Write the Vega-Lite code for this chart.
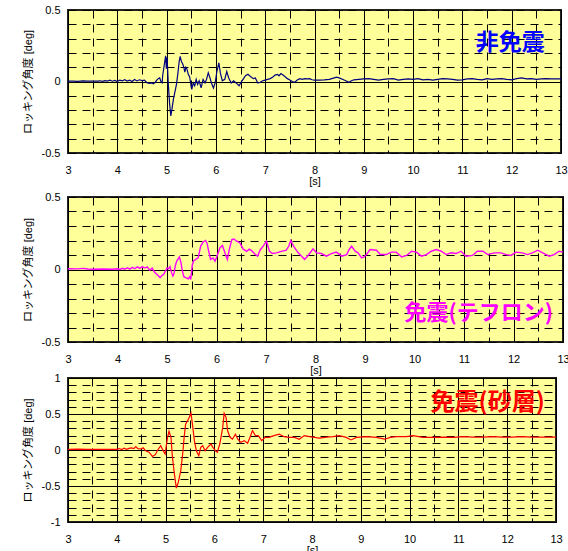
{
  "$schema": "https://vega.github.io/schema/vega-lite/v6.json",
  "padding": {"top": 3, "left": 21, "right": 0, "bottom": 0},
  "background": "#FFFFFF",
  "datasets": {
    "a": [
      {"t":3.0,"v":0.002},{"t":3.1,"v":0.003},{"t":3.2,"v":0.001},{"t":3.3,"v":0.004},{"t":3.4,"v":0.002},{"t":3.5,"v":0.003},{"t":3.6,"v":0.002},{"t":3.65,"v":0.005},{"t":3.7,"v":0.001},{"t":3.75,"v":0.006},{"t":3.8,"v":0.003},{"t":3.85,"v":0.009},{"t":3.9,"v":0.002},{"t":3.95,"v":0.007},{"t":4.0,"v":0.0},{"t":4.05,"v":0.01},{"t":4.1,"v":0.004},{"t":4.15,"v":0.012},{"t":4.2,"v":0.003},{"t":4.25,"v":0.009},{"t":4.3,"v":0.0},{"t":4.35,"v":0.014},{"t":4.4,"v":0.004},{"t":4.45,"v":0.012},{"t":4.5,"v":0.006},{"t":4.55,"v":0.01},{"t":4.6,"v":-0.008},{"t":4.65,"v":-0.013},{"t":4.7,"v":-0.01},{"t":4.73,"v":-0.016},{"t":4.77,"v":-0.005},{"t":4.8,"v":0.01},{"t":4.83,"v":0.02},{"t":4.86,"v":0.025},{"t":4.89,"v":-0.005},{"t":4.91,"v":-0.01},{"t":4.92,"v":0.04},{"t":4.95,"v":0.11},{"t":4.98,"v":0.18},{"t":4.995,"v":0.09},{"t":5.01,"v":0.17},{"t":5.035,"v":-0.02},{"t":5.06,"v":-0.15},{"t":5.085,"v":-0.24},{"t":5.11,"v":-0.19},{"t":5.14,"v":-0.12},{"t":5.17,"v":-0.07},{"t":5.2,"v":-0.02},{"t":5.23,"v":0.06},{"t":5.255,"v":0.14},{"t":5.275,"v":0.175},{"t":5.3,"v":0.14},{"t":5.33,"v":0.12},{"t":5.355,"v":0.09},{"t":5.37,"v":0.065},{"t":5.39,"v":0.1},{"t":5.41,"v":0.09},{"t":5.44,"v":0.05},{"t":5.47,"v":0.03},{"t":5.5,"v":-0.04},{"t":5.51,"v":-0.055},{"t":5.54,"v":-0.01},{"t":5.57,"v":-0.03},{"t":5.6,"v":0.015},{"t":5.63,"v":-0.02},{"t":5.66,"v":0.005},{"t":5.7,"v":-0.045},{"t":5.74,"v":0.015},{"t":5.78,"v":-0.01},{"t":5.81,"v":0.015},{"t":5.845,"v":0.06},{"t":5.88,"v":0.025},{"t":5.91,"v":-0.01},{"t":5.95,"v":-0.045},{"t":5.985,"v":-0.01},{"t":6.02,"v":0.07},{"t":6.06,"v":0.13},{"t":6.09,"v":0.06},{"t":6.13,"v":0.005},{"t":6.18,"v":0.015},{"t":6.22,"v":0.07},{"t":6.26,"v":0.025},{"t":6.31,"v":-0.01},{"t":6.36,"v":0.005},{"t":6.41,"v":-0.01},{"t":6.47,"v":-0.03},{"t":6.53,"v":0.005},{"t":6.6,"v":0.04},{"t":6.65,"v":0.05},{"t":6.7,"v":0.035},{"t":6.76,"v":0.02},{"t":6.8,"v":0.025},{"t":6.85,"v":-0.01},{"t":6.9,"v":-0.005},{"t":6.95,"v":0.005},{"t":7.0,"v":0.01},{"t":7.05,"v":0.015},{"t":7.1,"v":0.02},{"t":7.15,"v":0.03},{"t":7.2,"v":0.045},{"t":7.25,"v":0.05},{"t":7.28,"v":0.04},{"t":7.32,"v":0.055},{"t":7.36,"v":0.045},{"t":7.4,"v":0.035},{"t":7.45,"v":0.02},{"t":7.5,"v":0.01},{"t":7.55,"v":0.0},{"t":7.6,"v":-0.005},{"t":7.65,"v":0.01},{"t":7.7,"v":0.02},{"t":7.75,"v":0.015},{"t":7.8,"v":0.02},{"t":7.85,"v":0.018},{"t":7.9,"v":0.02},{"t":7.95,"v":0.012},{"t":8.0,"v":0.01},{"t":8.1,"v":0.01},{"t":8.2,"v":0.012},{"t":8.3,"v":0.015},{"t":8.4,"v":0.025},{"t":8.45,"v":0.03},{"t":8.5,"v":0.025},{"t":8.6,"v":0.01},{"t":8.7,"v":-0.005},{"t":8.75,"v":0.005},{"t":8.8,"v":0.012},{"t":8.9,"v":0.015},{"t":9.0,"v":0.018},{"t":9.1,"v":0.02},{"t":9.2,"v":0.015},{"t":9.3,"v":0.01},{"t":9.4,"v":0.015},{"t":9.5,"v":0.018},{"t":9.6,"v":0.02},{"t":9.7,"v":0.01},{"t":9.8,"v":0.015},{"t":9.9,"v":0.018},{"t":10.0,"v":0.015},{"t":10.1,"v":0.02},{"t":10.2,"v":0.012},{"t":10.3,"v":0.015},{"t":10.4,"v":0.01},{"t":10.5,"v":0.015},{"t":10.6,"v":0.02},{"t":10.7,"v":0.018},{"t":10.8,"v":0.015},{"t":10.9,"v":0.01},{"t":11.0,"v":0.012},{"t":11.1,"v":0.018},{"t":11.2,"v":0.02},{"t":11.3,"v":0.015},{"t":11.4,"v":0.012},{"t":11.5,"v":0.02},{"t":11.6,"v":0.015},{"t":11.7,"v":0.018},{"t":11.8,"v":0.02},{"t":11.9,"v":0.015},{"t":12.0,"v":0.012},{"t":12.1,"v":0.02},{"t":12.2,"v":0.025},{"t":12.3,"v":0.018},{"t":12.4,"v":0.02},{"t":12.5,"v":0.015},{"t":12.6,"v":0.018},{"t":12.7,"v":0.02},{"t":12.8,"v":0.018},{"t":12.9,"v":0.018},{"t":13.0,"v":0.018}
    ],
    "b": [
      {"t":3.0,"v":0.005},{"t":3.2,"v":0.004},{"t":3.3,"v":0.008},{"t":3.4,"v":0.003},{"t":3.5,"v":0.002},{"t":3.7,"v":0.003},{"t":3.9,"v":0.002},{"t":4.0,"v":0.005},{"t":4.05,"v":0.0},{"t":4.1,"v":0.008},{"t":4.15,"v":0.002},{"t":4.2,"v":0.012},{"t":4.25,"v":0.003},{"t":4.3,"v":0.015},{"t":4.35,"v":0.005},{"t":4.4,"v":0.018},{"t":4.45,"v":0.008},{"t":4.5,"v":0.02},{"t":4.55,"v":0.01},{"t":4.6,"v":0.018},{"t":4.65,"v":-0.005},{"t":4.7,"v":0.01},{"t":4.75,"v":-0.02},{"t":4.8,"v":-0.035},{"t":4.83,"v":-0.045},{"t":4.86,"v":-0.057},{"t":4.9,"v":-0.04},{"t":4.93,"v":-0.035},{"t":4.97,"v":-0.01},{"t":5.0,"v":0.01},{"t":5.03,"v":0.005},{"t":5.06,"v":0.02},{"t":5.09,"v":-0.02},{"t":5.12,"v":-0.045},{"t":5.14,"v":-0.03},{"t":5.17,"v":0.03},{"t":5.2,"v":0.06},{"t":5.25,"v":0.087},{"t":5.28,"v":0.05},{"t":5.31,"v":-0.01},{"t":5.34,"v":-0.05},{"t":5.39,"v":-0.057},{"t":5.43,"v":-0.064},{"t":5.46,"v":-0.05},{"t":5.48,"v":-0.069},{"t":5.51,"v":0.03},{"t":5.54,"v":0.06},{"t":5.58,"v":0.07},{"t":5.63,"v":0.08},{"t":5.68,"v":0.16},{"t":5.73,"v":0.19},{"t":5.78,"v":0.2},{"t":5.81,"v":0.18},{"t":5.84,"v":0.13},{"t":5.88,"v":0.07},{"t":5.93,"v":0.08},{"t":5.97,"v":0.057},{"t":6.01,"v":0.092},{"t":6.07,"v":0.15},{"t":6.12,"v":0.165},{"t":6.17,"v":0.115},{"t":6.22,"v":0.07},{"t":6.26,"v":0.14},{"t":6.31,"v":0.207},{"t":6.35,"v":0.21},{"t":6.41,"v":0.195},{"t":6.47,"v":0.185},{"t":6.54,"v":0.14},{"t":6.61,"v":0.125},{"t":6.66,"v":0.14},{"t":6.71,"v":0.13},{"t":6.78,"v":0.105},{"t":6.83,"v":0.092},{"t":6.88,"v":0.133},{"t":6.95,"v":0.165},{"t":7.01,"v":0.195},{"t":7.07,"v":0.125},{"t":7.13,"v":0.11},{"t":7.21,"v":0.115},{"t":7.31,"v":0.125},{"t":7.41,"v":0.133},{"t":7.46,"v":0.16},{"t":7.5,"v":0.2},{"t":7.56,"v":0.16},{"t":7.65,"v":0.115},{"t":7.72,"v":0.092},{"t":7.78,"v":0.07},{"t":7.87,"v":0.105},{"t":7.95,"v":0.143},{"t":8.02,"v":0.115},{"t":8.12,"v":0.11},{"t":8.22,"v":0.092},{"t":8.32,"v":0.11},{"t":8.42,"v":0.12},{"t":8.53,"v":0.092},{"t":8.63,"v":0.103},{"t":8.68,"v":0.138},{"t":8.73,"v":0.16},{"t":8.8,"v":0.126},{"t":8.86,"v":0.115},{"t":8.93,"v":0.08},{"t":8.98,"v":0.087},{"t":9.03,"v":0.103},{"t":9.1,"v":0.138},{"t":9.23,"v":0.133},{"t":9.31,"v":0.103},{"t":9.43,"v":0.103},{"t":9.53,"v":0.12},{"t":9.63,"v":0.12},{"t":9.74,"v":0.087},{"t":9.84,"v":0.097},{"t":9.94,"v":0.126},{"t":10.04,"v":0.12},{"t":10.14,"v":0.092},{"t":10.24,"v":0.103},{"t":10.34,"v":0.126},{"t":10.44,"v":0.138},{"t":10.54,"v":0.126},{"t":10.64,"v":0.103},{"t":10.74,"v":0.115},{"t":10.84,"v":0.11},{"t":10.94,"v":0.126},{"t":11.04,"v":0.092},{"t":11.17,"v":0.097},{"t":11.27,"v":0.126},{"t":11.38,"v":0.126},{"t":11.48,"v":0.103},{"t":11.61,"v":0.115},{"t":11.75,"v":0.115},{"t":11.85,"v":0.103},{"t":11.95,"v":0.097},{"t":12.05,"v":0.12},{"t":12.18,"v":0.115},{"t":12.28,"v":0.103},{"t":12.38,"v":0.115},{"t":12.49,"v":0.133},{"t":12.59,"v":0.115},{"t":12.72,"v":0.092},{"t":12.82,"v":0.103},{"t":12.92,"v":0.126},{"t":13.0,"v":0.12}
    ],
    "c": [
      {"t":3.0,"v":0.01},{"t":3.2,"v":0.012},{"t":3.4,"v":0.01},{"t":3.6,"v":0.008},{"t":3.8,"v":0.01},{"t":4.0,"v":0.01},{"t":4.05,"v":0.02},{"t":4.1,"v":0.005},{"t":4.15,"v":0.025},{"t":4.2,"v":0.01},{"t":4.25,"v":0.023},{"t":4.3,"v":0.03},{"t":4.35,"v":0.02},{"t":4.39,"v":0.046},{"t":4.43,"v":0.02},{"t":4.49,"v":0.014},{"t":4.54,"v":0.03},{"t":4.59,"v":-0.01},{"t":4.66,"v":-0.03},{"t":4.73,"v":-0.09},{"t":4.79,"v":-0.065},{"t":4.83,"v":-0.01},{"t":4.9,"v":0.06},{"t":4.95,"v":-0.01},{"t":4.99,"v":-0.055},{"t":5.04,"v":0.176},{"t":5.07,"v":0.26},{"t":5.11,"v":0.176},{"t":5.14,"v":-0.1},{"t":5.18,"v":-0.33},{"t":5.22,"v":-0.53},{"t":5.26,"v":-0.45},{"t":5.31,"v":-0.29},{"t":5.35,"v":-0.055},{"t":5.38,"v":0.176},{"t":5.41,"v":0.36},{"t":5.47,"v":0.43},{"t":5.52,"v":0.51},{"t":5.55,"v":0.36},{"t":5.59,"v":0.13},{"t":5.63,"v":-0.01},{"t":5.68,"v":-0.08},{"t":5.72,"v":0.037},{"t":5.76,"v":0.06},{"t":5.81,"v":-0.01},{"t":5.86,"v":0.037},{"t":5.93,"v":0.083},{"t":5.97,"v":0.037},{"t":6.02,"v":-0.01},{"t":6.06,"v":-0.03},{"t":6.11,"v":0.083},{"t":6.17,"v":0.31},{"t":6.2,"v":0.51},{"t":6.24,"v":0.45},{"t":6.27,"v":0.27},{"t":6.32,"v":0.176},{"t":6.37,"v":0.15},{"t":6.43,"v":0.22},{"t":6.48,"v":0.15},{"t":6.54,"v":0.106},{"t":6.61,"v":0.13},{"t":6.68,"v":0.093},{"t":6.73,"v":0.176},{"t":6.78,"v":0.27},{"t":6.84,"v":0.2},{"t":6.9,"v":0.2},{"t":6.97,"v":0.13},{"t":7.04,"v":0.176},{"t":7.12,"v":0.176},{"t":7.22,"v":0.2},{"t":7.33,"v":0.22},{"t":7.43,"v":0.185},{"t":7.53,"v":0.176},{"t":7.64,"v":0.176},{"t":7.74,"v":0.15},{"t":7.84,"v":0.2},{"t":7.95,"v":0.185},{"t":8.05,"v":0.175},{"t":8.15,"v":0.166},{"t":8.3,"v":0.18},{"t":8.43,"v":0.185},{"t":8.56,"v":0.2},{"t":8.7,"v":0.175},{"t":8.8,"v":0.14},{"t":8.91,"v":0.175},{"t":9.11,"v":0.185},{"t":9.32,"v":0.175},{"t":9.49,"v":0.15},{"t":9.6,"v":0.175},{"t":9.73,"v":0.185},{"t":9.93,"v":0.185},{"t":10.07,"v":0.2},{"t":10.27,"v":0.175},{"t":10.48,"v":0.175},{"t":10.7,"v":0.18},{"t":10.9,"v":0.175},{"t":11.1,"v":0.185},{"t":11.3,"v":0.18},{"t":11.5,"v":0.18},{"t":11.7,"v":0.185},{"t":11.9,"v":0.18},{"t":12.1,"v":0.18},{"t":12.3,"v":0.185},{"t":12.5,"v":0.18},{"t":12.7,"v":0.18},{"t":12.9,"v":0.18},{"t":13.0,"v":0.18}
    ]
  },
  "bounds": "flush",
  "spacing": 44,
  "vconcat": [
    {
      "width": 493, "height": 143,
      "layer": [
        {
          "data": {"name": "a"},
          "mark": {"type": "line", "color": "#000080", "strokeWidth": 1.2, "clip": true},
          "encoding": {
            "x": {"field": "t", "type": "quantitative", "scale": {"domain": [3, 13], "nice": false},
              "axis": {"title": "[s]", "tickCount": 100, "values": [3,3.5,4,4.5,5,5.5,6,6.5,7,7.5,8,8.5,9,9.5,10,10.5,11,11.5,12,12.5,13],
                "labelExpr": "datum.value % 1 === 0 ? '' + datum.value : ''",
                "gridDash": {"condition": {"test": "datum.value % 1 !== 0", "value": [8, 6]}, "value": []}}},
            "y": {"field": "v", "type": "quantitative", "scale": {"domain": [-0.5, 0.5], "nice": false, "zero": false},
              "axis": {"title": "ロッキング角度 [deg]", "tickCount": 100, "values": [-0.5,-0.4,-0.3,-0.2,-0.1,0,0.1,0.2,0.3,0.4,0.5],
                "labelExpr": "abs(round(datum.value*10)) % 5 === 0 ? '' + datum.value : ''",
                "gridDash": {"condition": {"test": "abs(round(datum.value*10)) !== 0", "value": [8, 6]}, "value": []}}}
          }
        },
        {
          "data": {"values": [{"label": "非免震"}]},
          "mark": {"type": "text", "font": "Noto Sans CJK JP", "fontWeight": "bold", "fontSize": 23, "color": "#0000FF"},
          "encoding": {"text": {"field": "label"}, "x": {"datum": 11.97, "type": "quantitative"}, "y": {"datum": 0.27, "type": "quantitative"}}
        }
      ]
    },
    {
      "bounds": "flush",
      "spacing": 36,
      "vconcat": [
        {
          "width": 495, "height": 145,
          "layer": [
            {
              "data": {"name": "b"},
              "mark": {"type": "line", "color": "#FF00FF", "strokeWidth": 1.4, "clip": true},
              "encoding": {
                "x": {"field": "t", "type": "quantitative", "scale": {"domain": [3, 13], "nice": false},
                  "axis": {"title": "[s]", "tickCount": 100, "values": [3,3.5,4,4.5,5,5.5,6,6.5,7,7.5,8,8.5,9,9.5,10,10.5,11,11.5,12,12.5,13],
                    "labelExpr": "datum.value % 1 === 0 ? '' + datum.value : ''",
                    "gridDash": {"condition": {"test": "datum.value % 1 !== 0", "value": [8, 6]}, "value": []}}},
                "y": {"field": "v", "type": "quantitative", "scale": {"domain": [-0.5, 0.5], "nice": false, "zero": false},
                  "axis": {"title": "ロッキング角度 [deg]", "tickCount": 100, "values": [-0.5,-0.4,-0.3,-0.2,-0.1,0,0.1,0.2,0.3,0.4,0.5],
                    "labelExpr": "abs(round(datum.value*10)) % 5 === 0 ? '' + datum.value : ''",
                    "gridDash": {"condition": {"test": "abs(round(datum.value*10)) !== 0", "value": [8, 6]}, "value": []}}}
              }
            },
            {
              "data": {"values": [{"label": "免震(テフロン)"}]},
              "mark": {"type": "text", "font": "Noto Sans CJK JP", "fontWeight": "bold", "fontSize": 22, "color": "#FF00FF"},
              "encoding": {"text": {"field": "label"}, "x": {"datum": 11.3, "type": "quantitative"}, "y": {"datum": -0.3, "type": "quantitative"}}
            }
          ]
        },
        {
          "width": 488, "height": 144,
          "layer": [
            {
              "data": {"name": "c"},
              "mark": {"type": "line", "color": "#FF0000", "strokeWidth": 1.2, "clip": true},
              "encoding": {
                "x": {"field": "t", "type": "quantitative", "scale": {"domain": [3, 13], "nice": false},
                  "axis": {"title": "[s]", "tickCount": 100, "values": [3,3.5,4,4.5,5,5.5,6,6.5,7,7.5,8,8.5,9,9.5,10,10.5,11,11.5,12,12.5,13],
                    "labelExpr": "datum.value % 1 === 0 ? '' + datum.value : ''",
                    "gridDash": {"condition": {"test": "datum.value % 1 !== 0", "value": [8, 6]}, "value": []}}},
                "y": {"field": "v", "type": "quantitative", "scale": {"domain": [-1, 1], "nice": false, "zero": false},
                  "axis": {"title": "ロッキング角度 [deg]", "tickCount": 100, "values": [-1,-0.9,-0.8,-0.7,-0.6,-0.5,-0.4,-0.3,-0.2,-0.1,0,0.1,0.2,0.3,0.4,0.5,0.6,0.7,0.8,0.9,1],
                    "labelExpr": "abs(round(datum.value*10)) % 5 === 0 ? '' + datum.value : ''",
                    "gridDash": {"condition": {"test": "abs(round(datum.value*10)) % 5 !== 0", "value": [8, 6]}, "value": []}}}
              }
            },
            {
              "data": {"values": [{"label": "免震(砂層)"}]},
              "mark": {"type": "text", "font": "Noto Sans CJK JP", "fontWeight": "bold", "fontSize": 24, "color": "#FF0000"},
              "encoding": {"text": {"field": "label"}, "x": {"datum": 11.6, "type": "quantitative"}, "y": {"datum": 0.65, "type": "quantitative"}}
            }
          ]
        }
      ]
    }
  ],
  "config": {
    "font": "Liberation Sans",
    "view": {"fill": "#FFFF99", "stroke": "#222222", "strokeWidth": 2},
    "axis": {
      "domain": false, "ticks": false,
      "labelFont": "Liberation Sans", "labelFontSize": 11, "labelColor": "#000000", "labelPadding": 11,
      "labelOverlap": false, "labelFlush": false, "labelBound": false,
      "titleFont": "Liberation Sans, Noto Sans CJK JP", "titleFontSize": 11, "titleFontWeight": "normal", "titleColor": "#000000",
      "gridColor": "#000000", "gridOpacity": 1, "gridWidth": 1
    },
    "axisX": {"titlePadding": 0},
    "axisY": {"labelPadding": 8, "titlePadding": 8}
  }
}
